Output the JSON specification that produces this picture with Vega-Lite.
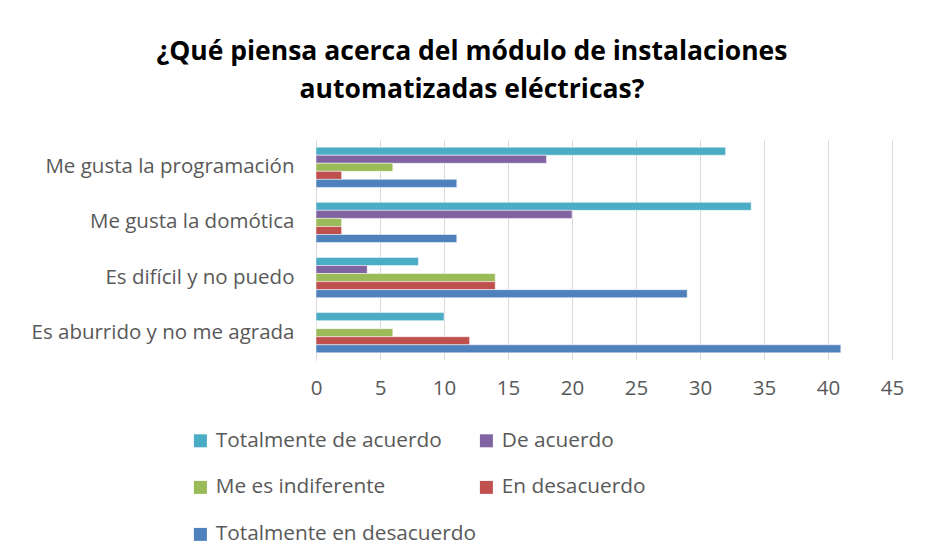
{
  "$schema": "https://vega.github.io/schema/vega-lite/v6.json",
  "autosize": {"type": "none"},
  "width": 576,
  "height": 220,
  "padding": {"left": 316, "top": 140, "right": 36, "bottom": 200},
  "background": "white",
  "config": {
    "font": "Open Sans",
    "view": {"stroke": null}
  },
  "title": {
    "text": ["¿Qué piensa acerca del módulo de instalaciones", "automatizadas eléctricas?"],
    "fontSize": 26.5,
    "fontWeight": "bold",
    "color": "#000000",
    "anchor": "middle",
    "frame": "group",
    "dx": -132,
    "offset": 37,
    "lineHeight": 38
  },
  "data": {
    "values": [
      {"pregunta": "Me gusta la programación", "respuesta": "Totalmente de acuerdo", "valor": 32},
      {"pregunta": "Me gusta la programación", "respuesta": "De acuerdo", "valor": 18},
      {"pregunta": "Me gusta la programación", "respuesta": "Me es indiferente", "valor": 6},
      {"pregunta": "Me gusta la programación", "respuesta": "En desacuerdo", "valor": 2},
      {"pregunta": "Me gusta la programación", "respuesta": "Totalmente en desacuerdo", "valor": 11},
      {"pregunta": "Me gusta la domótica", "respuesta": "Totalmente de acuerdo", "valor": 34},
      {"pregunta": "Me gusta la domótica", "respuesta": "De acuerdo", "valor": 20},
      {"pregunta": "Me gusta la domótica", "respuesta": "Me es indiferente", "valor": 2},
      {"pregunta": "Me gusta la domótica", "respuesta": "En desacuerdo", "valor": 2},
      {"pregunta": "Me gusta la domótica", "respuesta": "Totalmente en desacuerdo", "valor": 11},
      {"pregunta": "Es difícil y no puedo", "respuesta": "Totalmente de acuerdo", "valor": 8},
      {"pregunta": "Es difícil y no puedo", "respuesta": "De acuerdo", "valor": 4},
      {"pregunta": "Es difícil y no puedo", "respuesta": "Me es indiferente", "valor": 14},
      {"pregunta": "Es difícil y no puedo", "respuesta": "En desacuerdo", "valor": 14},
      {"pregunta": "Es difícil y no puedo", "respuesta": "Totalmente en desacuerdo", "valor": 29},
      {"pregunta": "Es aburrido y no me agrada", "respuesta": "Totalmente de acuerdo", "valor": 10},
      {"pregunta": "Es aburrido y no me agrada", "respuesta": "De acuerdo", "valor": 0},
      {"pregunta": "Es aburrido y no me agrada", "respuesta": "Me es indiferente", "valor": 6},
      {"pregunta": "Es aburrido y no me agrada", "respuesta": "En desacuerdo", "valor": 12},
      {"pregunta": "Es aburrido y no me agrada", "respuesta": "Totalmente en desacuerdo", "valor": 41}
    ]
  },
  "mark": {"type": "bar", "stroke": "white", "strokeWidth": 0.5},
  "encoding": {
    "y": {
      "field": "pregunta",
      "type": "nominal",
      "sort": ["Me gusta la programación", "Me gusta la domótica", "Es difícil y no puedo", "Es aburrido y no me agrada"],
      "scale": {"paddingInner": 0.27, "paddingOuter": 0.13},
      "axis": {
        "title": null,
        "ticks": false,
        "domain": true,
        "domainColor": "#d9d9d9",
        "labelFontSize": 20.5,
        "labelColor": "#595959",
        "labelPadding": 22,
        "labelLimit": 400
      }
    },
    "yOffset": {
      "field": "respuesta",
      "type": "nominal",
      "sort": ["Totalmente de acuerdo", "De acuerdo", "Me es indiferente", "En desacuerdo", "Totalmente en desacuerdo"],
      "scale": {"paddingInner": 0, "paddingOuter": 0}
    },
    "x": {
      "field": "valor",
      "type": "quantitative",
      "scale": {"domain": [0, 45], "nice": false},
      "axis": {
        "title": null,
        "values": [0, 5, 10, 15, 20, 25, 30, 35, 40, 45],
        "grid": true,
        "gridColor": "#d9d9d9",
        "gridWidth": 1,
        "domain": false,
        "ticks": false,
        "labelFontSize": 20.5,
        "labelColor": "#595959",
        "labelPadding": 18,
        "labelFlush": false
      }
    },
    "color": {
      "field": "respuesta",
      "type": "nominal",
      "sort": ["Totalmente de acuerdo", "De acuerdo", "Me es indiferente", "En desacuerdo", "Totalmente en desacuerdo"],
      "scale": {
        "domain": ["Totalmente de acuerdo", "De acuerdo", "Me es indiferente", "En desacuerdo", "Totalmente en desacuerdo"],
        "range": ["#4bacc6", "#8064a2", "#9bbb59", "#c0504d", "#4f81bd"]
      },
      "legend": {
        "title": null,
        "orient": "none",
        "legendX": -126,
        "legendY": 290,
        "direction": "horizontal",
        "columns": 2,
        "columnPadding": -3,
        "rowPadding": 25,
        "symbolType": "square",
        "symbolSize": 169,
        "symbolStrokeWidth": 0,
        "labelFontSize": 20.8,
        "labelColor": "#595959",
        "labelOffset": 5,
        "labelLimit": 400
      }
    }
  }
}
